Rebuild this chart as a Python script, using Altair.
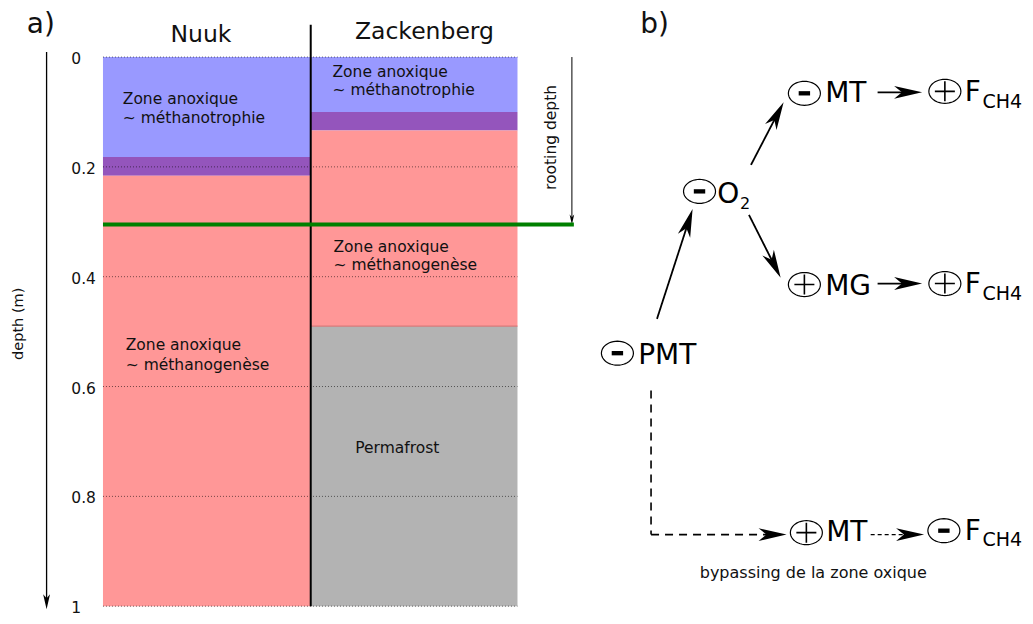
import altair as alt
import numpy as np
import pandas as pd

FONT = "DejaVu Sans"

# ---------------- data : panel a ----------------
sites = ["Nuuk", "Zackenberg"]
depth_ticks = [0.0, 0.2, 0.4, 0.6, 0.8, 1.0]
depth_tick_labels = ["0", "0.2", "0.4", "0.6", "0.8", "1"]

layer_site = ["Nuuk", "Nuuk", "Nuuk", "Zackenberg", "Zackenberg", "Zackenberg", "Zackenberg"]
layer_top = [0.0, 0.182, 0.216, 0.0, 0.100, 0.134, 0.490]
layer_bottom = [0.182, 0.216, 1.0, 0.100, 0.134, 0.490, 1.0]
layer_zone = ["méthanotrophie", "transition", "méthanogenèse",
              "méthanotrophie", "transition", "méthanogenèse", "permafrost"]
zone_names = ["méthanotrophie", "transition", "méthanogenèse", "permafrost"]
zone_colors = ["#9999ff", "#9455bc", "#ff9797", "#b3b3b3"]
rooting_depth = 0.305

zone_text = ["Zone anoxique", "~ méthanotrophie", "Zone anoxique", "~ méthanogenèse",
             "Zone anoxique", "~ méthanotrophie", "Zone anoxique", "~ méthanogenèse",
             "Permafrost"]
depth_axis_title = "depth (m)"
rooting_label = "rooting depth"

# ---------------- data : panel b ----------------
node_sign = ["-", "-", "-", "+", "+", "+", "+", "-"]
node_label = ["PMT", "O", "MT", "F", "MG", "F", "MT", "F"]
node_sub = ["", "2", "", "CH4", "", "CH4", "", "CH4"]
edge_style = ["solid", "solid", "solid", "solid", "solid", "dash", "dash", "dot"]
edge_head = [True, True, True, True, True, False, True, True]
bypass_label = "bypassing de la zone oxique"

# ---------------- layout (reference pixel frame) ----------------
X_VIEW = (6, 1034)
Y_VIEW = (8, 628)
DEPTH_TOP_PX, PX_PER_M = 58, 560
site_x = {"Nuuk": (102, 312), "Zackenberg": (312, 521)}
tick_label_x = 70
axis_arrow_x = 45
rooting_line_x1 = 578
rooting_arrow_x = 576
separator_py = (25, 618)
zone_text_x = [122, 122, 125, 125, 334, 334, 335, 335, 357]
zone_text_py = [106, 125, 357, 377, 78, 97, 257, 275, 462]

title_text = ["a)", "b)"]
title_x = [25, 645]
title_py = [33, 33]
site_title_x = [201, 427]
site_title_py = [43, 40]

circle_x = [622, 705, 811, 953, 811, 953, 813, 952]
circle_y = [360, 195, 95, 93, 290, 289, 543, 541]
label_x = [643, 723, 832, 973, 832, 973, 833, 973]
label_y = [371, 207, 104, 103, 301, 299, 552, 550]
sub_x = [0, 746, 0, 991, 0, 991, 0, 991]
sub_y = [0, 213, 0, 110, 0, 306, 0, 557]
sub_size = [0, 16, 0, 19, 0, 19, 0, 19]

edge_x1 = [662, 757, 755, 885, 885, 656, 656, 878]
edge_y1 = [325, 168, 219, 94, 289, 398, 545, 545]
edge_x2 = [698, 790, 787, 930, 930, 656, 793, 932]
edge_y2 = [213, 104, 283, 94, 289, 545, 545, 545]
HEAD_LEN = 28

# ---------------- shapes ----------------
HEAD_PATH = "M0,0L0.23,1L0,0.72L-0.23,1Z"
MINUS_PATH = "M-1,-0.38L1,-0.38L1,0.38L-1,0.38Z"
PLUS_PATH = "M-1,0L1,0M0,-1L0,1"
_t = np.linspace(0, 2 * np.pi, 48, endpoint=False)
ELLIPSE_PATH = "M" + "L".join(f"{np.cos(a):.3f},{0.75 * np.sin(a):.3f}" for a in _t) + "Z"

# ---------------- scales ----------------
xs = alt.Scale(domain=list(X_VIEW), nice=False, zero=False)
ys_depth = alt.Scale(domain=[(Y_VIEW[0] - DEPTH_TOP_PX) / PX_PER_M, (Y_VIEW[1] - DEPTH_TOP_PX) / PX_PER_M],
                     reverse=True, nice=False, zero=False)
ys_px = alt.Scale(domain=list(Y_VIEW), reverse=True, nice=False, zero=False)


def X(f):
    return alt.X(f, type="quantitative", scale=xs, axis=None)


def YD(f):
    return alt.Y(f, type="quantitative", scale=ys_depth, axis=None)


def YP(f):
    return alt.Y(f, type="quantitative", scale=ys_px, axis=None)


layers = []

# ---- panel a : soil layers ----
bands = pd.DataFrame({"site": layer_site, "top": layer_top, "bottom": layer_bottom, "zone": layer_zone})
bands["x0"] = bands["site"].map(lambda s: site_x[s][0])
bands["x1"] = bands["site"].map(lambda s: site_x[s][1])
layers.append(
    alt.Chart(bands).mark_rect().encode(
        x=X("x0"), x2="x1", y=YD("top"), y2="bottom",
        color=alt.Color("zone:N", scale=alt.Scale(domain=zone_names, range=zone_colors), legend=None),
    )
)
# permafrost upper boundary
layers.append(
    alt.Chart(bands).transform_filter(alt.datum.zone == "permafrost").mark_rule(
        color="#d97a7a", strokeWidth=1.2
    ).encode(x=X("x0"), x2="x1", y=YD("top"))
)

# grid lines
grid = pd.DataFrame({"d": depth_ticks, "lab": depth_tick_labels})
grid["x0"] = site_x["Nuuk"][0]
grid["x1"] = site_x["Zackenberg"][1]
grid["lx"] = tick_label_x
layers.append(
    alt.Chart(grid).mark_rule(color="#000000", opacity=0.55, strokeWidth=1, strokeDash=[1, 2]).encode(
        x=X("x0"), x2="x1", y=YD("d")
    )
)
layers.append(
    alt.Chart(grid).mark_text(align="left", baseline="middle", dy=2, font=FONT, fontSize=15.5, color="#111111").encode(
        x=X("lx"), y=YD("d"), text="lab:N"
    )
)

# separator between sites
sep = pd.DataFrame({"x": [site_x["Nuuk"][1]], "y0": [separator_py[0]], "y1": [separator_py[1]]})
layers.append(
    alt.Chart(sep).mark_rule(color="#000000", strokeWidth=2).encode(x=X("x"), y=YP("y0"), y2="y1")
)

# rooting depth arrow
root = pd.DataFrame({"x": [rooting_arrow_x], "d0": [0.0], "d1": [rooting_depth - 0.01]})
layers.append(
    alt.Chart(root).mark_rule(color="#000000", strokeWidth=1).encode(x=X("x"), y=YD("d0"), y2="d1")
)

# depth axis arrow
axis_df = pd.DataFrame({"x": [axis_arrow_x], "d0": [-0.009], "d1": [0.99]})
layers.append(
    alt.Chart(axis_df).mark_rule(color="#000000", strokeWidth=1.3).encode(x=X("x"), y=YD("d0"), y2="d1")
)

# arrowheads of panel a
heads_a = pd.DataFrame({
    "x": [rooting_arrow_x, axis_arrow_x],
    "d": [rooting_depth, 1.0054],
    "ang": [180, 180],
    "sz": [400, 900],
})
layers.append(
    alt.Chart(heads_a).mark_point(shape=HEAD_PATH, filled=True, color="#000000", opacity=1, strokeWidth=0).encode(
        x=X("x"), y=YD("d"), angle=alt.Angle("ang:Q", scale=None), size=alt.Size("sz:Q", scale=None)
    )
)

# green rooting depth line
green = pd.DataFrame({"x0": [site_x["Nuuk"][0]], "x1": [rooting_line_x1], "d": [rooting_depth]})
layers.append(
    alt.Chart(green).mark_rule(color="#008000", strokeWidth=4).encode(x=X("x0"), x2="x1", y=YD("d"))
)

# zone texts
zt = pd.DataFrame({"t": zone_text, "x": zone_text_x, "y": zone_text_py})
layers.append(
    alt.Chart(zt).mark_text(align="left", baseline="alphabetic", font=FONT, fontSize=15.5, color="#111111").encode(
        x=X("x"), y=YP("y"), text="t:N"
    )
)

# site titles
st = pd.DataFrame({"t": sites, "x": site_title_x, "y": site_title_py})
layers.append(
    alt.Chart(st).mark_text(align="center", baseline="alphabetic", font=FONT, fontSize=23.5, color="#111111").encode(
        x=X("x"), y=YP("y"), text="t:N"
    )
)

# panel titles a) b)
pt = pd.DataFrame({"t": title_text, "x": title_x, "y": title_py})
layers.append(
    alt.Chart(pt).mark_text(align="left", baseline="alphabetic", font=FONT, fontSize=28, color="#111111").encode(
        x=X("x"), y=YP("y"), text="t:N"
    )
)

# rotated labels
rot = pd.DataFrame({"t": [depth_axis_title, rooting_label], "x": [17, 555], "y": [330, 140], "fs": [14.5, 15.5]})
layers.append(
    alt.Chart(rot).mark_text(align="center", baseline="middle", angle=270, font=FONT, color="#111111").encode(
        x=X("x"), y=YP("y"), text="t:N", size=alt.Size("fs:Q", scale=None)
    )
)

# ---- panel b ----
edges = pd.DataFrame({"x1": edge_x1, "y1": edge_y1, "x2": edge_x2, "y2": edge_y2,
                      "style": edge_style, "head": edge_head})
dx = edges["x2"] - edges["x1"]
dy = edges["y2"] - edges["y1"]
ln = np.hypot(dx, dy)
ux, uy = dx / ln, dy / ln
shorten = np.where(edges["head"], 0.6 * HEAD_LEN, 0.0)
edges["ex"] = edges["x2"] - ux * shorten
edges["ey"] = edges["y2"] - uy * shorten
edges["ang"] = np.degrees(np.arctan2(dx, -dy)) % 360

layers.append(
    alt.Chart(edges).mark_rule(color="#000000").encode(
        x=X("x1"), y=YP("y1"), x2="ex", y2="ey",
        strokeDash=alt.StrokeDash("style:N", scale=alt.Scale(domain=["solid", "dash", "dot"],
                                                             range=[[1, 0], [8, 6], [4, 3]]), legend=None),
        strokeWidth=alt.StrokeWidth("style:N", scale=alt.Scale(domain=["solid", "dash", "dot"],
                                                               range=[1.8, 1.4, 1.4]), legend=None),
    )
)
layers.append(
    alt.Chart(edges).transform_filter(alt.datum.head).mark_point(
        shape=HEAD_PATH, filled=True, color="#000000", opacity=1, strokeWidth=0, size=HEAD_LEN * HEAD_LEN * 4
    ).encode(x=X("x2"), y=YP("y2"), angle=alt.Angle("ang:Q", scale=None))
)

nodes = pd.DataFrame({"sign": node_sign, "label": node_label, "sub": node_sub,
                      "cx": circle_x, "cy": circle_y, "lx": label_x, "ly": label_y,
                      "sx": sub_x, "sy": sub_y, "ss": sub_size})
layers.append(
    alt.Chart(nodes).mark_point(shape=ELLIPSE_PATH, filled=False, color="#000000", opacity=1,
                                strokeWidth=1.2, size=1024).encode(x=X("cx"), y=YP("cy"))
)
layers.append(
    alt.Chart(nodes).transform_filter(alt.datum.sign == "-").mark_point(
        shape=MINUS_PATH, filled=True, color="#000000", opacity=1, strokeWidth=0, size=130
    ).encode(x=X("cx"), y=YP("cy"))
)
layers.append(
    alt.Chart(nodes).transform_filter(alt.datum.sign == "+").mark_point(
        shape=PLUS_PATH, filled=False, color="#000000", opacity=1, strokeWidth=1.6, size=400
    ).encode(x=X("cx"), y=YP("cy"))
)
layers.append(
    alt.Chart(nodes).mark_text(align="left", baseline="alphabetic", font=FONT, fontSize=28, color="#000000").encode(
        x=X("lx"), y=YP("ly"), text="label:N"
    )
)
layers.append(
    alt.Chart(nodes).transform_filter(alt.datum.sub != "").mark_text(
        align="left", baseline="alphabetic", font=FONT, color="#000000"
    ).encode(x=X("sx"), y=YP("sy"), text="sub:N", size=alt.Size("ss:Q", scale=None))
)

bp = pd.DataFrame({"t": [bypass_label], "x": [820], "y": [589]})
layers.append(
    alt.Chart(bp).mark_text(align="center", baseline="alphabetic", font=FONT, fontSize=16, color="#111111").encode(
        x=X("x"), y=YP("y"), text="t:N"
    )
)

chart = alt.layer(*layers).resolve_scale(y="independent").properties(
    width=1017, height=608, padding=0, autosize=alt.AutoSizeParams(type="none"), background="white"
).configure_view(stroke=None)

chart.save("out.html", embed_options={"renderer": "svg", "actions": False})
